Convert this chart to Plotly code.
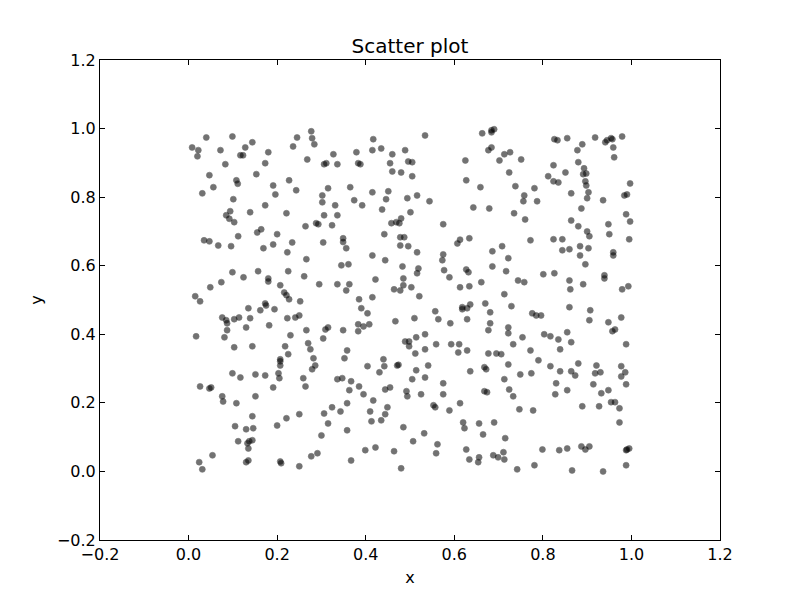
import plotly.graph_objects as go

# Point coordinates (grouped by region)
x_vals = [
    0.040,0.099,0.245,0.008,0.022,0.072,0.128,0.144,0.236,0.020,0.117,0.123,0.180,0.083,0.173,0.047,0.153,0.108,0.111,0.191,0.227,0.056,0.031,0.196,0.243,0.101,0.173,0.094,0.139,0.221,0.085,0.092,0.103,0.155,0.164,0.200,0.112,
    0.277,0.279,0.284,0.417,0.379,0.415,0.435,0.460,0.489,0.268,0.327,0.306,0.311,0.336,0.383,0.388,0.455,0.496,0.505,0.460,0.480,0.505,0.315,0.365,0.302,0.415,0.451,0.302,0.374,0.494,0.331,0.392,0.446,0.437,0.306,0.336,0.501,0.288,0.293,0.264,0.324,0.458,0.469,0.476,0.480,0.442,0.349,0.478,0.487,
    0.534,0.663,0.684,0.690,0.684,0.677,0.684,0.713,0.726,0.702,0.751,0.625,0.724,0.627,0.659,0.738,0.516,0.544,0.758,0.756,0.643,0.679,0.735,0.760,0.575,0.613,0.634,
    0.826,0.833,0.855,0.918,0.941,0.945,0.954,0.957,0.979,0.889,0.878,0.959,0.961,0.880,0.824,0.893,0.851,0.812,0.891,0.898,0.824,0.835,0.896,0.898,0.997,0.781,0.864,0.903,0.984,0.990,0.787,0.900,0.936,0.887,0.988,0.864,0.880,0.948,0.997,0.900,0.905,0.950,0.824,0.844,0.995,0.772,
    0.035,0.047,0.067,0.096,0.169,0.191,0.234,0.223,0.099,0.124,0.157,0.180,0.180,0.225,0.074,0.049,0.207,0.216,0.221,0.227,0.015,0.026,0.173,0.175,0.135,0.162,0.194,0.076,0.085,0.087,0.103,0.114,0.139,0.223,0.241,0.130,0.182,0.087,0.017,0.081,0.230,0.103,0.144,0.218,0.225,
    0.304,0.349,0.356,0.478,0.496,0.266,0.415,0.444,0.345,0.361,0.483,0.261,0.422,0.485,0.295,0.336,0.363,0.356,0.464,0.478,0.485,0.503,0.252,0.385,0.415,0.390,0.404,0.250,0.467,0.266,0.309,0.315,0.349,0.383,0.395,0.408,0.383,0.304,0.270,0.275,0.358,0.489,0.498,0.498,
    0.607,0.516,0.575,0.573,0.519,0.516,0.577,0.589,0.627,0.632,0.634,0.613,0.661,0.686,0.708,0.722,0.686,0.717,0.744,0.758,0.521,0.713,0.670,0.729,0.681,0.557,0.636,0.629,0.618,0.618,0.564,0.510,0.591,0.629,0.681,0.677,0.722,0.722,0.514,0.534,0.754,0.733,0.559,0.593,0.611,0.534,0.629,0.512,0.609,0.677,0.695,0.706,
    0.844,0.860,0.884,0.903,0.884,0.896,0.959,0.959,0.801,0.826,0.860,0.862,0.891,0.939,0.939,0.979,0.993,0.860,0.907,0.905,0.776,0.785,0.796,0.977,0.948,0.963,0.957,0.803,0.817,0.835,0.855,0.864,0.988,0.772,0.839,
    0.207,0.207,0.207,0.099,0.117,0.151,0.173,0.203,0.205,0.026,0.047,0.051,0.191,0.076,0.078,0.108,0.151,0.144,0.221,0.105,0.130,0.146,0.200,0.112,0.133,0.137,0.144,0.135,0.054,0.024,0.031,0.130,0.135,0.207,0.209,
    0.282,0.352,0.440,0.286,0.279,0.404,0.442,0.431,0.471,0.474,0.259,0.264,0.336,0.347,0.367,0.363,0.385,0.395,0.444,0.455,0.505,0.492,0.494,0.417,0.324,0.358,0.343,0.306,0.410,0.449,0.444,0.413,0.435,0.250,0.315,0.485,0.358,0.300,0.399,0.422,0.464,0.277,0.291,0.367,0.250,0.480,
    0.514,0.541,0.534,0.575,0.575,0.525,0.553,0.557,0.589,0.613,0.636,0.668,0.672,0.722,0.713,0.749,0.668,0.674,0.724,0.733,0.747,0.620,0.623,0.656,0.690,0.665,0.715,0.532,0.507,0.562,0.559,0.627,0.634,0.656,0.654,0.688,0.699,0.711,0.713,0.742,
    0.790,0.774,0.817,0.839,0.864,0.873,0.880,0.921,0.918,0.930,0.977,0.986,0.977,0.988,0.830,0.828,0.855,0.914,0.932,0.948,0.954,0.963,0.973,0.889,0.927,0.778,0.973,0.799,0.837,0.855,0.887,0.896,0.905,0.988,0.995,0.990,0.781,0.866,0.936,0.988,
]
y_vals = [
    0.974,0.977,0.974,0.945,0.937,0.937,0.945,0.960,0.948,0.919,0.922,0.922,0.931,0.896,0.899,0.864,0.867,0.849,0.839,0.834,0.849,0.829,0.811,0.808,0.820,0.794,0.776,0.759,0.756,0.753,0.747,0.737,0.727,0.697,0.706,0.692,0.686,
    0.992,0.972,0.954,0.969,0.931,0.937,0.942,0.925,0.937,0.910,0.925,0.896,0.899,0.896,0.899,0.896,0.899,0.904,0.902,0.875,0.872,0.861,0.826,0.829,0.805,0.814,0.817,0.785,0.791,0.797,0.776,0.776,0.794,0.764,0.747,0.747,0.756,0.724,0.721,0.715,0.718,0.724,0.727,0.724,0.738,0.692,0.680,0.683,0.683,
    0.980,0.986,0.995,0.998,0.989,0.937,0.945,0.925,0.931,0.907,0.910,0.907,0.872,0.849,0.829,0.832,0.805,0.788,0.805,0.788,0.770,0.767,0.753,0.735,0.721,0.676,0.680,
    0.969,0.966,0.972,0.974,0.960,0.966,0.972,0.969,0.977,0.954,0.937,0.945,0.916,0.902,0.893,0.884,0.872,0.861,0.867,0.869,0.846,0.843,0.846,0.834,0.840,0.826,0.811,0.814,0.805,0.808,0.788,0.797,0.791,0.767,0.750,0.732,0.715,0.721,0.729,0.700,0.686,0.692,0.677,0.677,0.677,0.674,
    0.674,0.671,0.659,0.657,0.651,0.662,0.668,0.639,0.581,0.566,0.584,0.563,0.554,0.584,0.552,0.537,0.543,0.522,0.514,0.502,0.511,0.496,0.490,0.484,0.476,0.470,0.473,0.449,0.441,0.432,0.444,0.449,0.447,0.447,0.449,0.420,0.426,0.412,0.394,0.391,0.397,0.362,0.365,0.365,0.342,
    0.668,0.669,0.651,0.659,0.657,0.619,0.630,0.616,0.601,0.604,0.598,0.569,0.560,0.563,0.546,0.546,0.546,0.528,0.531,0.528,0.543,0.537,0.496,0.502,0.508,0.476,0.461,0.455,0.438,0.412,0.414,0.420,0.412,0.429,0.423,0.429,0.409,0.388,0.374,0.356,0.353,0.379,0.379,0.365,
    0.665,0.639,0.633,0.616,0.592,0.578,0.587,0.566,0.589,0.581,0.540,0.537,0.552,0.642,0.657,0.622,0.598,0.584,0.557,0.552,0.511,0.517,0.490,0.482,0.464,0.467,0.487,0.476,0.479,0.473,0.444,0.447,0.432,0.444,0.432,0.412,0.420,0.403,0.391,0.400,0.391,0.371,0.371,0.371,0.371,0.356,0.353,0.344,0.347,0.344,0.344,0.342,
    0.645,0.648,0.657,0.651,0.630,0.604,0.639,0.630,0.575,0.578,0.557,0.531,0.546,0.572,0.563,0.531,0.540,0.479,0.470,0.441,0.461,0.455,0.455,0.449,0.435,0.414,0.409,0.400,0.394,0.385,0.406,0.377,0.371,0.353,0.356,
    0.327,0.321,0.309,0.286,0.274,0.283,0.280,0.286,0.272,0.248,0.242,0.245,0.245,0.219,0.204,0.199,0.219,0.161,0.155,0.132,0.123,0.126,0.134,0.088,0.082,0.088,0.091,0.067,0.047,0.027,0.006,0.027,0.032,0.029,0.024,
    0.330,0.330,0.327,0.309,0.298,0.307,0.307,0.289,0.309,0.311,0.272,0.248,0.269,0.272,0.263,0.237,0.248,0.225,0.239,0.245,0.269,0.234,0.219,0.207,0.187,0.199,0.175,0.169,0.175,0.187,0.167,0.146,0.149,0.167,0.140,0.129,0.120,0.105,0.062,0.070,0.059,0.044,0.053,0.032,0.015,0.009,
    0.295,0.309,0.274,0.257,0.225,0.225,0.193,0.187,0.178,0.199,0.292,0.304,0.298,0.312,0.269,0.283,0.234,0.231,0.239,0.219,0.181,0.143,0.126,0.140,0.143,0.108,0.097,0.111,0.088,0.079,0.053,0.064,0.035,0.041,0.027,0.047,0.041,0.056,0.035,0.006,
    0.324,0.286,0.307,0.292,0.292,0.280,0.315,0.309,0.286,0.289,0.307,0.289,0.277,0.254,0.257,0.225,0.237,0.254,0.228,0.237,0.202,0.202,0.184,0.190,0.190,0.178,0.143,0.064,0.062,0.067,0.073,0.064,0.073,0.062,0.067,0.064,0.018,0.003,0.000,0.018,
]
assert len(x_vals) == len(y_vals)

tick_vals = [-0.2, 0.0, 0.2, 0.4, 0.6, 0.8, 1.0, 1.2]
tick_text = ["\u22120.2", "0.0", "0.2", "0.4", "0.6", "0.8", "1.0", "1.2"]

fig = go.Figure(
    go.Scatter(
        x=x_vals, y=y_vals, mode="markers",
        marker=dict(color="black", opacity=0.55, size=6,
                    line=dict(color="black", width=0.6)),
        hoverinfo="x+y",
    )
)

axis_common = dict(
    range=[-0.2, 1.2], tickvals=tick_vals, ticktext=tick_text,
    ticks="inside", ticklen=5, tickwidth=1, tickcolor="black",
    showline=True, linecolor="black", linewidth=1, mirror="allticks",
    showgrid=False, zeroline=False,
    tickfont=dict(family="DejaVu Sans", size=16, color="black"),
)

# The page body adds an 8px offset, so margins are shifted accordingly
fig.update_layout(
    width=800, height=600,
    paper_bgcolor="white", plot_bgcolor="white",
    margin=dict(l=92, r=88, t=52, b=68),
    font=dict(family="DejaVu Sans", color="black"),
    title=dict(text="Scatter plot", x=0.5, xref="paper", xanchor="center",
               y=1 - 38 / 600, yref="container", yanchor="middle",
               font=dict(family="DejaVu Sans", size=20, color="black")),
    xaxis=dict(**axis_common, title=dict(text="x", font=dict(size=16), standoff=8)),
    yaxis=dict(**axis_common, title=dict(text="y", font=dict(size=16), standoff=10)),
    showlegend=False,
)

fig.write_html("out.html")
